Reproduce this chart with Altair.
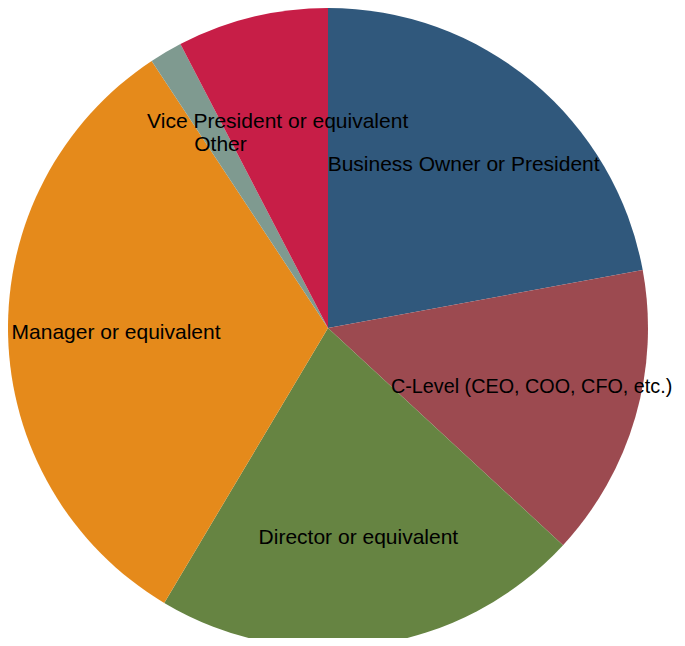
import altair as alt
import pandas as pd

categories = [
    "Business Owner or President",
    "C-Level (CEO, COO, CFO, etc.)",
    "Director or equivalent",
    "Manager or equivalent",
    "Other",
    "Vice President or equivalent",
]
shares = [22.10, 14.77, 21.68, 32.16, 1.66, 7.63]
colors = ["#30587c", "#9c4a50", "#668442", "#e58a1b", "#7f9a90", "#c71e47"]

df = pd.DataFrame({"role": categories, "share": shares, "idx": list(range(len(categories)))})

base = alt.Chart(df).encode(
    theta=alt.Theta("share:Q", stack=True),
    order=alt.Order("idx:Q"),
    x=alt.value(320),
    y=alt.value(320),
)

pie = base.mark_arc(radius=320).encode(
    color=alt.Color("role:N", scale=alt.Scale(domain=categories, range=colors), legend=None)
)

labels = base.mark_text(
    radius=212, font="Liberation Sans", color="black",
    align="center", baseline="middle"
).encode(
    text="role:N",
    size=alt.condition(alt.datum.role == categories[1], alt.value(19.8), alt.value(21)),
)

chart = (pie + labels).properties(
    width=640, height=630,
    padding={"left": 0, "top": 0, "right": 29, "bottom": 0},
    autosize="none",
).configure_view(stroke=None)

chart.save("out.html", embed_options={"renderer": "svg", "actions": False})
